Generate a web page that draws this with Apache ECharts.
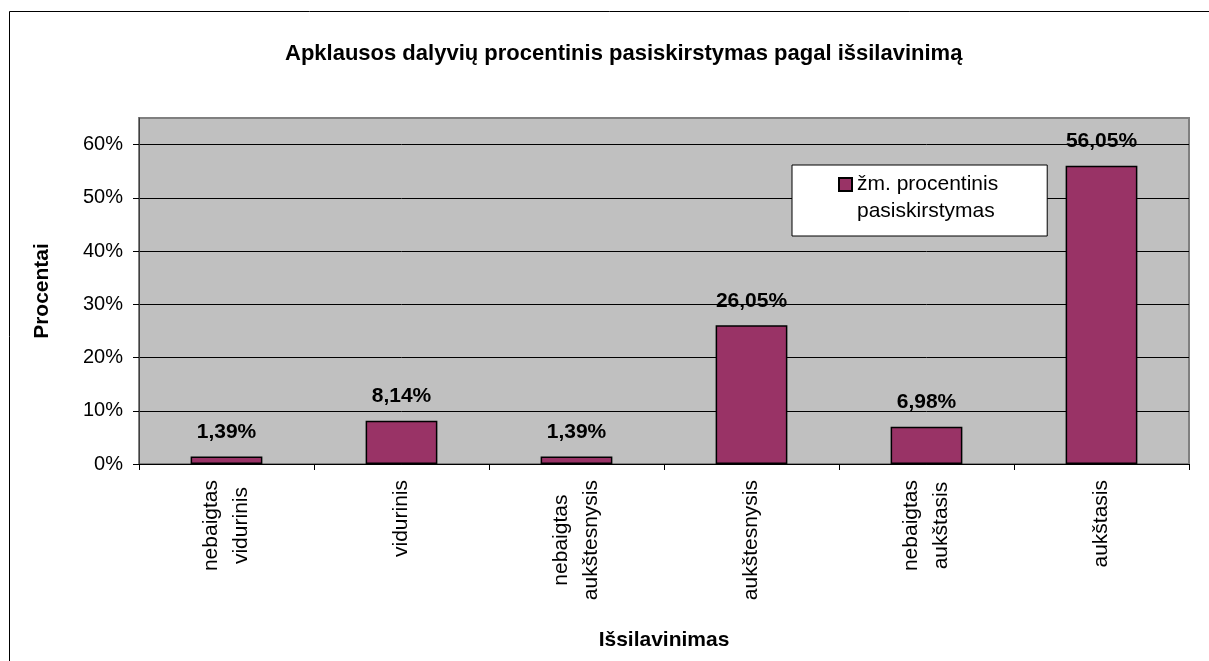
<!DOCTYPE html>
<html>
<head>
<meta charset="utf-8">
<script src="https://cdn.jsdelivr.net/npm/echarts@6/dist/echarts.min.js"></script>
<style>
  html, body { margin: 0; padding: 0; background: #fff; }
  #chart { width: 1209px; height: 661px; }
</style>
</head>
<body>
<div id="chart"></div>
<script>
var categories = [
  "nebaigtas\nvidurinis",
  "vidurinis",
  "nebaigtas\naukštesnysis",
  "aukštesnysis",
  "nebaigtas\naukštasis",
  "aukštasis"
];
var shares = [1.39, 8.14, 1.39, 26.05, 6.98, 56.05];
var yTicks = [0, 10, 20, 30, 40, 50, 60];
var seriesName = "žm. procentinis\npasiskirstymas";
var titleText = "Apklausos dalyvių procentinis pasiskirstymas pagal išsilavinimą";

var font = "Arial, 'Liberation Sans', sans-serif";

// title is centred a bit right of the page centre, as in the original
var ctx = document.createElement("canvas").getContext("2d");
ctx.font = "bold 22px " + font;
var titleW = ctx.measureText(titleText).width;

var chart = echarts.init(document.getElementById("chart"));

var option = {
  backgroundColor: "#fff",
  textStyle: { fontFamily: font },
  title: {
    text: titleText,
    left: Math.round(624 - titleW / 2),
    top: 43,
    padding: 0,
    textStyle: { fontSize: 22, fontWeight: "bold", color: "#000", fontFamily: font }
  },
  legend: {
    left: 792,
    top: 165,
    orient: "vertical",
    padding: [6, 49, 11, 46],
    backgroundColor: "#fff",
    borderColor: "#000",
    borderWidth: 1,
    borderRadius: 0,
    itemWidth: 13,
    itemHeight: 40,
    icon: "path://M0,0L13,0L13,13L0,13ZM0,40",
    textStyle: { fontSize: 21, lineHeight: 27, color: "#000", fontFamily: font },
    data: [seriesName]
  },
  grid: {
    left: 139,
    right: 20,
    top: 118,
    bottom: 197,
    show: true,
    backgroundColor: "#c0c0c0",
    borderColor: "#808080",
    borderWidth: 2
  },
  xAxis: {
    type: "category",
    data: categories,
    boundaryGap: true,
    name: "Išsilavinimas",
    nameLocation: "middle",
    nameGap: 166,
    nameTextStyle: { fontSize: 21, fontWeight: "bold", color: "#000", fontFamily: font },
    axisLine: { show: true, lineStyle: { color: "#000", width: 1 } },
    axisTick: { show: true, length: 6, lineStyle: { color: "#000" } },
    axisLabel: {
      interval: 0,
      rotate: 90,
      margin: 16,
      color: "#000",
      fontSize: 21,
      formatter: function (v) {
        return v.split("\n").map(function (s) { return "{c|" + s + "}"; }).join("\n");
      },
      rich: {
        c: { align: "center", fontSize: 21, lineHeight: 30, color: "#000", fontFamily: font }
      }
    },
    splitLine: { show: false }
  },
  yAxis: {
    type: "value",
    min: 0,
    max: 65,
    interval: 10,
    name: "Procentai",
    nameLocation: "middle",
    nameGap: 86,
    nameTextStyle: { fontSize: 21, fontWeight: "bold", color: "#000", fontFamily: font },
    axisLine: { show: true, lineStyle: { color: "#404040", width: 1 } },
    axisTick: { show: true, length: 6, customValues: yTicks, lineStyle: { color: "#000" } },
    axisLabel: {
      customValues: yTicks,
      margin: 16,
      fontSize: 20,
      color: "#000",
      formatter: function (v) { return v + "%"; }
    },
    splitLine: { show: true, lineStyle: { color: "#000", width: 1 } }
  },
  series: [
    {
      name: seriesName,
      type: "bar",
      data: shares,
      barWidth: "41%",
      itemStyle: { color: "#993366", borderColor: "#000", borderWidth: 1.5 },
      label: {
        show: true,
        position: "top",
        distance: 14,
        fontSize: 21,
        fontWeight: "bold",
        color: "#000",
        fontFamily: font,
        formatter: function (p) { return p.value.toFixed(2).replace(".", ",") + "%"; }
      }
    }
  ],
  graphic: [
    {
      type: "rect",
      shape: { x: 9.5, y: 11.5, width: 1300, height: 800 },
      style: { fill: null, stroke: "#000", lineWidth: 1 },
      silent: true
    }
  ]
};

chart.setOption(option);
</script>
</body>
</html>
